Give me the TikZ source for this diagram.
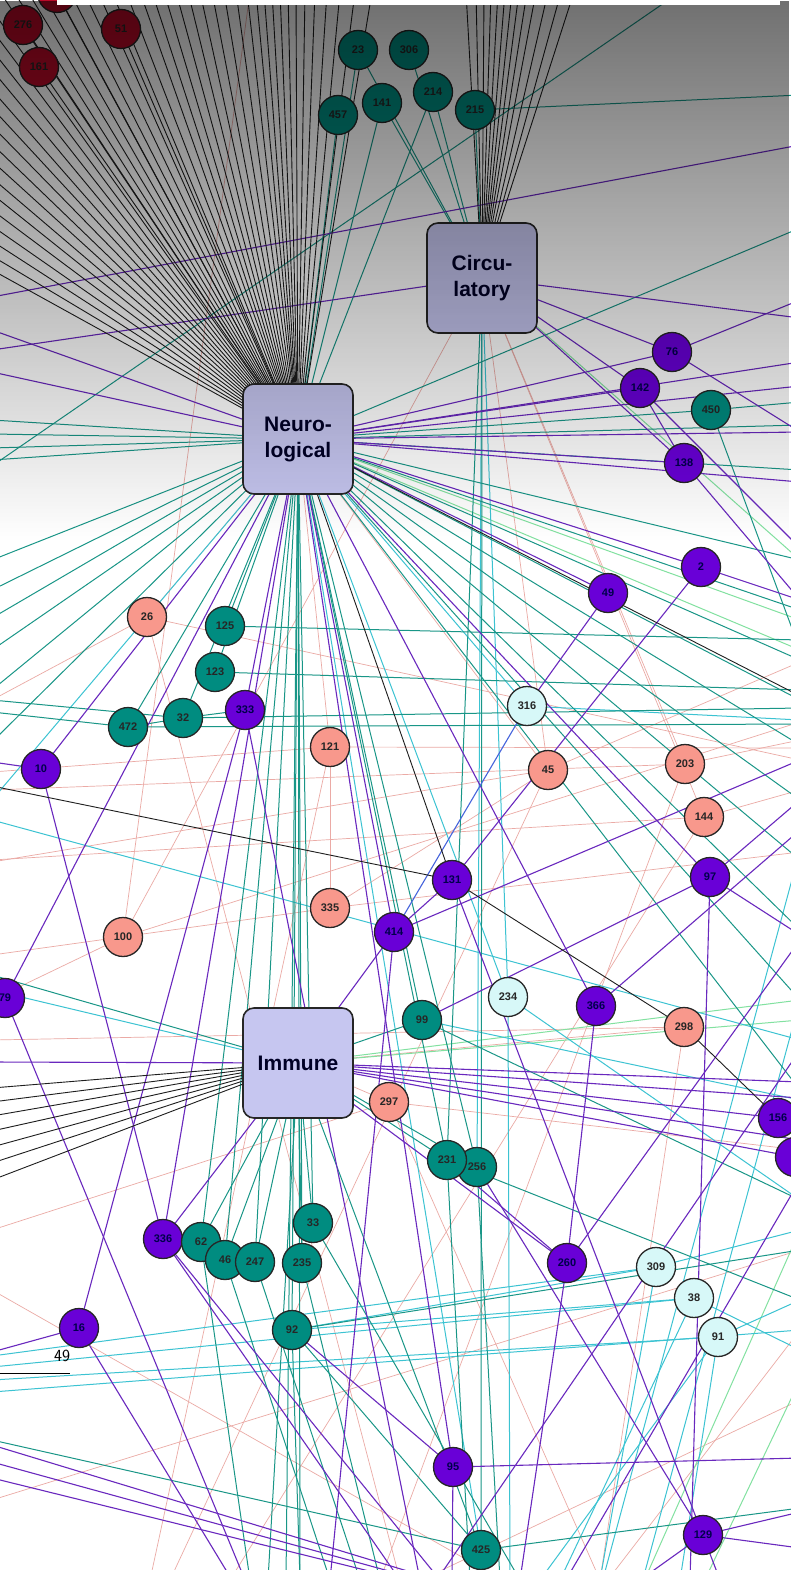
\documentclass[tikz,border=0pt]{standalone}
\usepackage{fontspec}
\setmainfont{Liberation Sans}
\usetikzlibrary{fadings}
\pgfdeclarelayer{back}\pgfdeclarelayer{edges}\pgfdeclarelayer{over}
\pgfsetlayers{back,edges,main,over}
\tikzfading[name=topdark, top color=transparent!0, bottom color=transparent!100]
\definecolor{cBlack}{RGB}{30,30,30}
\definecolor{cPurp}{RGB}{105,40,190}
\definecolor{cBlue}{RGB}{70,100,220}
\definecolor{cTeal}{RGB}{25,150,135}
\definecolor{cCyan}{RGB}{60,195,210}
\definecolor{cPink}{RGB}{235,170,165}
\definecolor{cGreen}{RGB}{130,225,160}
\definecolor{fRed}{RGB}{185,10,40}
\definecolor{fTeal}{RGB}{0,140,128}
\definecolor{fPurp}{RGB}{105,0,215}
\definecolor{fSalm}{RGB}{248,152,140}
\definecolor{fCyan}{RGB}{215,248,248}
\definecolor{fHub}{RGB}{198,198,240}
\tikzset{
 nd/.style={circle, draw=black!85, line width=1.3pt, minimum size=39pt, inner sep=0pt, text=black!85, font=\bfseries\fontsize{11}{12}\selectfont},
 nred/.style={nd, fill=fRed},
 nteal/.style={nd, fill=fTeal},
 npur/.style={nd, fill=fPurp, text=black!70!blue},
 nsal/.style={nd, fill=fSalm},
 ncy/.style={nd, fill=fCyan},
 hub/.style={rectangle, rounded corners=11pt, draw=black!85, line width=1.6pt, fill=fHub, minimum width=110pt, minimum height=110pt, align=center, text=black!85!blue, font=\bfseries\fontsize{21}{26}\selectfont},
 eK/.style={draw=cBlack, line width=0.9pt},
 eP/.style={draw=cPurp, line width=1.1pt},
 eB/.style={draw=cBlue, line width=1.1pt},
 eT/.style={draw=cTeal, line width=1.0pt},
 eC/.style={draw=cCyan, line width=1.0pt},
 eS/.style={draw=cPink, line width=0.7pt},
 eG/.style={draw=cGreen, line width=1.0pt},
}
\begin{document}
\begin{tikzpicture}[x=1pt,y=-1pt]
\useasboundingbox (0,0) rectangle (791,1570);
\begin{pgfonlayer}{back}
\fill[white] (0,0) rectangle (791,1570);
\end{pgfonlayer}
% ---------------- nodes ----------------
\node[hub] (C) at (482,278) {Circu-\\latory};
\node[hub] (N) at (298,439) {Neuro-\\logical};
\node[hub] (I) at (298,1063) {Immune};
\foreach \n/\x/\y/\l in {r0/57/-7/{},r1/23/25/276,r2/39/67/161,r3/121/29/51}
  \node[nred] (\n) at (\x,\y) {\l};
\foreach \n/\x/\y/\l in {t23/358/50/23,t306/409/50/306,t457/338/115/457,t141/382/103/141,t214/433/92/214,t215/475/110/215,
  t450/711/410/450,t125/225/626/125,t123/215/672/123,t472/128/727/472,t32/183/718/32,t99/422/1020/99,
  t256/477/1167/256,t231/447/1160/231,t33/313/1223/33,t235/302/1263/235,t92/292/1330/92,t425/481/1550/425}
  \node[nteal] (\n) at (\x,\y) {\l};
\foreach \n/\x/\y/\l in {p76/672/352/76,p142/640/388/142,p138/684/463/138,p2/701/567/2,p49/608/593/49,p333/245/710/333,
  p10/41/769/10,p131/452/880/131,p97/710/877/97,p414/394/932/414,pL/5/998/79,p366/596/1006/366,p156/778/1118/156,
  p157/795/1157/{},p336/163/1239/336,p260/567/1263/260,p16/79/1328/16,p95/453/1467/95,p129/703/1535/129}
  \node[npur] (\n) at (\x,\y) {\l};
\foreach \n/\x/\y/\l in {t62/201/1242/62,t46/225/1260/46,t247/255/1262/247}
  \node[nteal] (\n) at (\x,\y) {\l};
\foreach \n/\x/\y/\l in {s26/147/617/26,s121/330/747/121,s45/548/770/45,s203/685/764/203,s144/704/817/144,
  s335/330/908/335,s100/123/937/100,s298/684/1027/298,s297/389/1102/297}
  \node[nsal] (\n) at (\x,\y) {\l};
\foreach \n/\x/\y/\l in {c316/527/706/316,c234/508/997/234,c309/656/1267/309,c38/694/1298/38,c91/718/1337/91}
  \node[ncy] (\n) at (\x,\y) {\l};
\node[font=\sffamily\fontsize{17}{17}\selectfont] (pg) at (62,1356) {49};
\coordinate (pl1) at (0,1373); \coordinate (pl2) at (70,1373);
\draw[line width=0.6pt] (pl1) -- (pl2);
% ---------------- edges ----------------
\begin{pgfonlayer}{edges}
\clip (0,0) rectangle (791,1570);
% pink
\foreach \a/\x/\y [count=\i] in {s26/800/760,s26/-8/700,s121/800/748,s121/-8/772,s45/800/662,s45/-8/862,s203/-8/790,
  s203/800/740,s144/-8/860,s144/800/790,s335/800/852,s335/-8/955,s100/800/722,s100/-8/1000,s297/800/1150,s297/600/1580,
  s298/-8/1040,s298/600/1580,s100/250/-8,s26/400/1580,s203/380/1580,s144/230/1580,s45/170/1580,s297/-8/1230,s121/150/1580}
  {\coordinate (sc\i) at (\x,\y); \draw[eS] (\a.center) -- (sc\i);}
\foreach \a/\b in {s121/s335,N/s121,N/s45,N/s26,C/s45,C/s203,C/s144,I/s297,I/s298,s45/s335,C/s100}
  \draw[eS] (\a.center) -- (\b.center);
\foreach \x/\y/\u/\v [count=\i] in {800/1400/400/1590,800/1250/-8/1500,-8/1290/520/1590,800/1330/600/1590}
  {\coordinate (sfa\i) at (\x,\y); \coordinate (sfb\i) at (\u,\v); \draw[eS] (sfa\i) -- (sfb\i);}
% green
\foreach \a/\x/\y [count=\i] in {N/800/620,N/800/650,I/800/1000,I/800/1020,C/800/560}
  {\coordinate (gc\i) at (\x,\y); \draw[eG] (\a.center) -- (gc\i);}
\foreach \x/\y/\u/\v [count=\i] in {640/1590/800/1230,700/1590/800/1380}
  {\coordinate (gfa\i) at (\x,\y); \coordinate (gfb\i) at (\u,\v); \draw[eG] (gfa\i) -- (gfb\i);}
% cyan
\foreach \a/\x/\y [count=\i] in {c309/-8/1356,c38/-8/1367,c91/-8/1380,c309/600/1580,c38/560/1580,c91/680/1580,c91/800/1300,
  c234/510/1580,c234/800/1200,c316/800/720,N/-8/800,c309/800/1230,c38/800/1350,t99/800/1100,I/-8/990,c91/540/1580}
  {\coordinate (cc\i) at (\x,\y); \draw[eC] (\a.center) -- (cc\i);}
\foreach \a/\b in {t92/c309,t92/c38,C/c234,N/c234,N/c316,C/t256,N/t425}
  \draw[eC] (\a.center) -- (\b.center);
\foreach \x/\y/\u/\v [count=\i] in {-8/1392/800/1330,800/850/600/1590,800/1000/640/1590,-8/820/800/1040}
  {\coordinate (cfa\i) at (\x,\y); \coordinate (cfb\i) at (\u,\v); \draw[eC] (cfa\i) -- (cfb\i);}
% teal
\foreach \a/\x/\y [count=\i] in {N/800/228,N/-8/420,N/-8/434,N/-8/448,N/-8/460,N/800/425,N/800/470,t450/800/402,t450/800/650,
  N/-8/560,N/-8/590,N/-8/618,N/-8/650,N/-8/690,N/-8/742,N/800/560,N/800/610,N/800/660,N/800/700,N/800/745,N/800/800,
  N/800/860,N/800/930,N/800/1000,N/800/1090,N/300/1580,N/286/1580,t125/800/640,t123/800/690,t32/800/708,t472/800/724,
  t472/-8/712,t32/-8/700,I/-8/975,t99/800/1200,t231/800/1300,t92/800/1250,t425/800/1508,t425/-8/1440,t215/800/95,
  I/268/1580,t62/250/1580,t46/330/1580,t247/360/1580,t235/380/1580,t33/520/1580,t92/300/1580,t231/470/1580,t256/500/1580}
  {\coordinate (tc\i) at (\x,\y); \draw[eT] (\a.center) -- (tc\i);}
\foreach \a/\b in {t457/N,t23/N,t141/N,t214/C,t215/C,t306/C,t141/C,t23/C,t214/N,N/t450,N/t472,N/t32,N/t123,N/t125,
  t472/t32,N/t33,N/t235,N/t92,N/t247,N/t46,N/t62,N/t99,N/t231,N/t256,I/t99,I/t33,I/t235,I/t247,I/t46,I/t62,
  I/t231,I/t256,I/t425,C/t231,C/t425,t92/t425,t32/p333}
  \draw[eT] (\a.center) -- (\b.center);
\coordinate (tfa1) at (-8,466); \coordinate (tfb1) at (680,-8);
\draw[eT] (tfa1) -- (tfb1);
% purple
\foreach \a/\x/\y [count=\i] in {C/-8/350,N/-8/330,N/-8/372,C/800/318,N/800/362,N/800/386,N/800/432,N/800/482,
  p76/800/300,p76/800/432,p138/800/600,p142/800/548,p2/800/600,p97/800/800,p97/800/935,p97/690/1580,p366/800/830,
  p260/800/940,p260/520/1580,p414/800/760,I/800/1082,I/800/1098,I/800/1140,I/-8/1062,pL/245/1580,pL/-8/985,
  p16/-8/1352,p16/232/1580,p336/400/1580,p336/440/1580,p95/800/1458,p95/452/1580,p129/800/1512,p129/800/1548,
  p129/640/1580,p10/-8/762,p333/420/1580,p131/720/1580,p414/330/1580}
  {\coordinate (pc\i) at (\x,\y); \draw[eP] (\a.center) -- (pc\i);}
\foreach \a/\b in {C/p76,C/p142,C/p138,N/p76,N/p142,N/p138,N/p49,N/p2,N/p97,N/p414,N/p10,N/pL,N/p336,N/p95,N/p333,
  p142/p138,p2/p131,p49/c316,p131/p414,p97/t99,p366/p260,t231/p260,t256/p129,t92/p95,I/p336,I/p156,I/p157,I/p260,
  p16/p333,p10/p336,p414/I,p366/N}
  \draw[eP] (\a.center) -- (\b.center);
\draw[eB] (c316.center) -- (p414.center);
\foreach \x/\y/\u/\v [count=\i] in {-8/297/800/145,-8/1445/470/1590,-8/1462/458/1590,-8/1478/446/1590,800/1050/430/1590,800/1180/560/1590}
  {\coordinate (pfa\i) at (\x,\y); \coordinate (pfb\i) at (\u,\v); \draw[eP] (pfa\i) -- (pfb\i);}
% black
\foreach \x [count=\i] in {0,14,28,42,56,70,84,98,112,126,140,152,164,176,188,200,212,224,236,247,256,264,272,280,288,296,305,315,327,340,355,372}
  {\coordinate (kt\i) at (\x,-8); \draw[eK] (N.center) -- (kt\i);}
\foreach \y [count=\i] in {10,30,50,70,90,108,126,144,161,178,194,210,226,241,256,270}
  {\coordinate (kl\i) at (-8,\y); \draw[eK] (N.center) -- (kl\i);}
\foreach \a in {r0,r1,r2,r3} \draw[eK] (N.center) -- (\a.center);
\foreach \x [count=\i] in {466,476,484,491,498,505,512,519,527,536,548,561,574}
  {\coordinate (kc\i) at (\x,-8); \draw[eK] (C.center) -- (kc\i);}
\foreach \y [count=\i] in {1088,1102,1116,1131,1147,1163,1180}
  {\coordinate (ki\i) at (-8,\y); \draw[eK] (I.center) -- (ki\i);}
\coordinate (kx1) at (-8,786); \coordinate (kx2) at (800,696);
\draw[eK] (kx1) -- (p131.center);
\draw[eK] (p131.center) -- (s298.center);
\draw[eK] (s298.center) -- (p156.center);
\draw[eK] (N.center) -- (p131.center);
\draw[eK] (N.center) -- (kx2);
\end{pgfonlayer}
% ---------------- overlay ----------------
\begin{pgfonlayer}{over}
\fill[black, fill opacity=0.56, path fading=topdark] (0,0) rectangle (791,540);
\fill[white] (57,0) rectangle (780,5);
\end{pgfonlayer}
\end{tikzpicture}
\end{document}
